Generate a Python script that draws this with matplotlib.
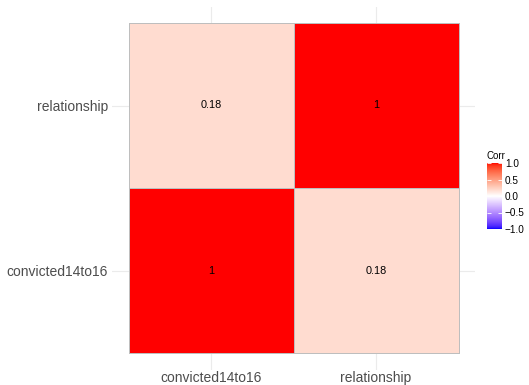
import numpy as np
import matplotlib.pyplot as plt
from matplotlib.colors import ListedColormap, Normalize

variables = ["convicted14to16", "relationship"]
corr = np.array([[1.00, 0.18],
                 [0.18, 1.00]])
legend_ticks = [-1.0, -0.5, 0.0, 0.5, 1.0]

plt.rcParams['font.family'] = ['Liberation Sans', 'DejaVu Sans']


# colour ramp in CIELAB, blue - white - red
def srgb_to_lab(c):
    c = np.asarray(c, float)
    lin = np.where(c <= 0.04045, c / 12.92, ((c + 0.055) / 1.055) ** 2.4)
    m = np.array([[0.4124, 0.3576, 0.1805],
                  [0.2126, 0.7152, 0.0722],
                  [0.0193, 0.1192, 0.9505]])
    xyz = m @ lin / np.array([0.95047, 1.0, 1.08883])
    f = np.where(xyz > 0.008856, np.cbrt(xyz), 7.787 * xyz + 16 / 116)
    return np.array([116 * f[1] - 16, 500 * (f[0] - f[1]), 200 * (f[1] - f[2])])


def lab_to_srgb(lab):
    L, a, b = lab
    fy = (L + 16) / 116
    fx = fy + a / 500
    fz = fy - b / 200
    f = np.array([fx, fy, fz])
    xyz = np.where(f ** 3 > 0.008856, f ** 3, (f - 16 / 116) / 7.787)
    xyz = xyz * np.array([0.95047, 1.0, 1.08883])
    m = np.array([[3.2406, -1.5372, -0.4986],
                  [-0.9689, 1.8758, 0.0415],
                  [0.0557, -0.2040, 1.0570]])
    lin = np.clip(m @ xyz, 0, 1)
    c = np.where(lin <= 0.0031308, 12.92 * lin, 1.055 * lin ** (1 / 2.4) - 0.055)
    return np.clip(c, 0, 1)


lab_blue = srgb_to_lab([0, 0, 1])
lab_white = srgb_to_lab([1, 1, 1])
lab_red = srgb_to_lab([1, 0, 0])
colours = []
for t in np.linspace(-1, 1, 512):
    end = lab_blue if t < 0 else lab_red
    colours.append(lab_to_srgb(lab_white + abs(t) * (end - lab_white)))
cmap = ListedColormap(colours)
norm = Normalize(-1, 1)

fig = plt.figure(figsize=(5.29, 3.85), dpi=100)
ax = fig.add_axes([112 / 529, 1 - 369.5 / 385, 363 / 529, 363 / 385])

n = len(variables)
edges = np.arange(n + 1) - 0.5
mesh = ax.pcolormesh(edges, edges, corr, cmap=cmap, norm=norm,
                     edgecolors='#BEBEBE', linewidth=0.5)

for i in range(n):
    for j in range(n):
        ax.text(j, i, f"{corr[i, j]:g}", ha='center', va='center',
                fontsize=7.8, color='black')

ax.set_xlim(-0.6, n - 0.4)
ax.set_ylim(-0.6, n - 0.4)
ax.set_xticks(range(n))
ax.set_yticks(range(n))
ax.set_xticklabels(variables)
ax.set_yticklabels(variables)
ax.tick_params(length=0, labelsize=10, labelcolor='#4D4D4D')
ax.tick_params(axis='x', pad=1)
ax.tick_params(axis='y', pad=3)
ax.grid(True, color='#EBEBEB', linewidth=0.8)
ax.set_axisbelow(True)
for s in ax.spines.values():
    s.set_visible(False)

# legend bar
cax = fig.add_axes([487 / 529, 1 - 229 / 385, 15 / 529, 66 / 385])
cb = fig.colorbar(mesh, cax=cax, ticks=legend_ticks)
cb.outline.set_visible(False)
cb.ax.set_yticklabels([f"{v:.1f}".replace('-', '\u2212') for v in legend_ticks])
cax.tick_params(length=3, width=0.6, color='white', direction='in',
                labelsize=7.2, pad=2, left=True, right=True)
cax.set_title("Corr", fontsize=7, loc='left', pad=3, x=-0.02)

fig.savefig("out.png", dpi=100)
